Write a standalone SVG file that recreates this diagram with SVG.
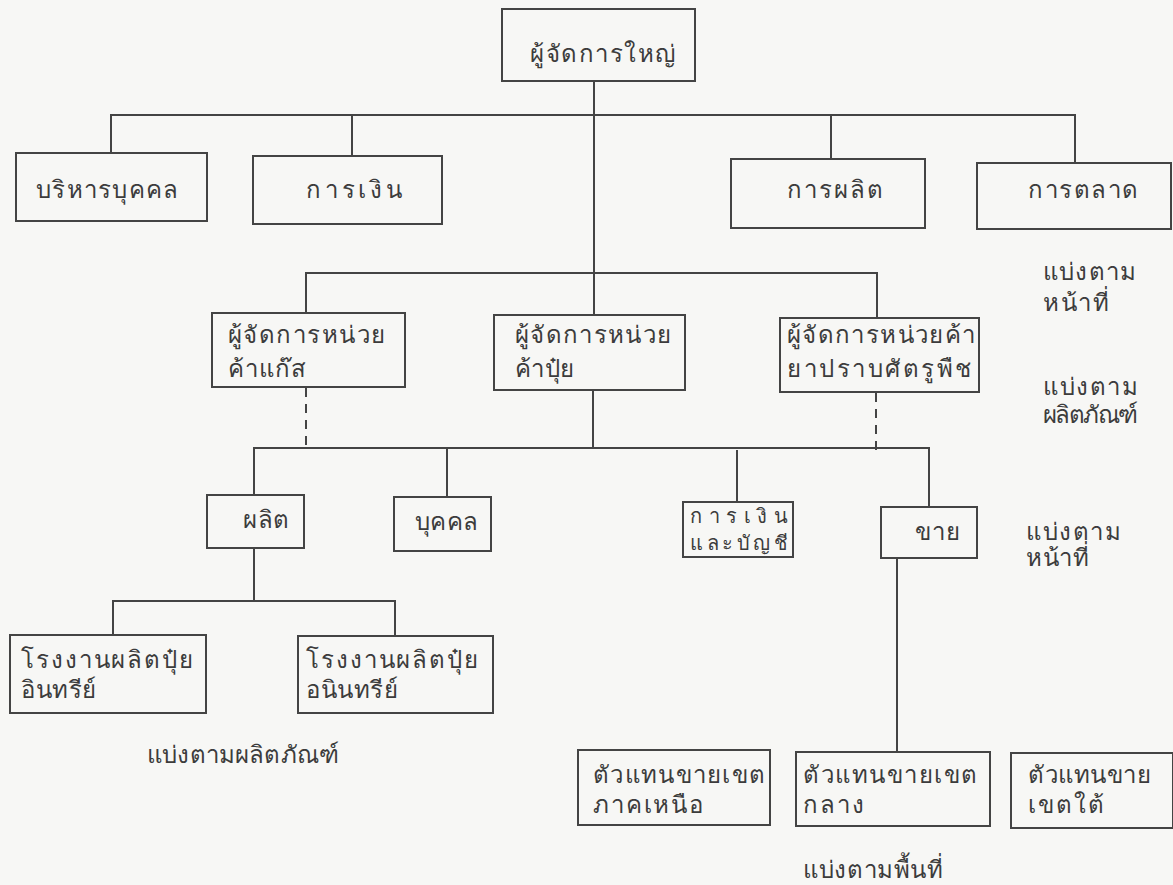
<svg xmlns="http://www.w3.org/2000/svg" width="1173" height="885" viewBox="0 0 1173 885">
<style>
.box{fill:none;stroke:#444;stroke-width:2}
.ln{fill:none;stroke:#444;stroke-width:2}
.dash{fill:none;stroke:#444;stroke-width:2;stroke-dasharray:9 7}
text{font-family:"DejaVu Sans","Noto Sans",sans-serif;font-size:24px;fill:#3c3c3c}
.sm{font-size:20px}
</style>
<rect x="0" y="0" width="1173" height="885" fill="#f7f7f5"/>
<g id="connectors">
<path class="ln" d="M594,81 V315"/>
<path class="ln" d="M111,153 V115 H1075 V163"/>
<path class="ln" d="M352,115 V156"/>
<path class="ln" d="M831,116 V159"/>
<path class="ln" d="M306,313 V273 H877 V318"/>
<path class="dash" d="M306,388 V448"/>
<path class="dash" d="M876,393 V451"/>
<path class="ln" d="M593,390 V449"/>
<path class="ln" d="M254,495 V448 H929 V507"/>
<path class="ln" d="M447,449 V497"/>
<path class="ln" d="M737,450 V502"/>
<path class="ln" d="M254,548 V601"/>
<path class="ln" d="M113,635 V601 H395 V636"/>
<path class="ln" d="M897,558 V752"/>
</g>
<g id="n-top"><rect class="box" x="502" y="9" width="193" height="72"/><text x="530" y="62" textLength="145">ผู้จัดการใหญ่</text></g>
<g id="n-hr"><rect class="box" x="16" y="153" width="191" height="68"/><text x="36" y="198" textLength="142">บริหารบุคคล</text></g>
<g id="n-fin"><rect class="box" x="253" y="156" width="189" height="68"/><text x="306" y="198" textLength="96">การเงิน</text></g>
<g id="n-prod"><rect class="box" x="731" y="159" width="194" height="69"/><text x="787" y="198" textLength="96">การผลิต</text></g>
<g id="n-mkt"><rect class="box" x="977" y="163" width="194" height="66"/><text x="1028" y="198" textLength="110">การตลาด</text></g>
<g id="lbl-func1"><text x="1043" y="280" textLength="93">แบ่งตาม</text><text x="1043" y="311" textLength="66">หน้าที่</text></g>
<g id="n-gas"><rect class="box" x="212" y="313" width="193" height="74"/><text x="228" y="343" textLength="157">ผู้จัดการหน่วย</text><text x="228" y="377" textLength="78">ค้าแก๊ส</text></g>
<g id="n-fert"><rect class="box" x="494" y="315" width="191" height="75"/><text x="515" y="343" textLength="156">ผู้จัดการหน่วย</text><text x="515" y="377" textLength="59">ค้าปุ๋ย</text></g>
<g id="n-pest"><rect class="box" x="780" y="318" width="199" height="74"/><text x="787" y="343" textLength="188">ผู้จัดการหน่วยค้า</text><text x="787" y="377" textLength="184">ยาปราบศัตรูพืช</text></g>
<g id="lbl-prod1"><text x="1043" y="395" textLength="95">แบ่งตาม</text><text x="1043" y="423" textLength="95">ผลิตภัณฑ์</text></g>
<g id="n-mfg"><rect class="box" x="207" y="495" width="97" height="53"/><text x="243" y="528" textLength="46">ผลิต</text></g>
<g id="n-pers"><rect class="box" x="394" y="497" width="97" height="54"/><text x="415" y="530" textLength="63">บุคคล</text></g>
<g id="n-acc"><rect class="box" x="683" y="502" width="110" height="55"/><text class="sm" x="690" y="523" textLength="98">การเงิน</text><text class="sm" x="690" y="550" textLength="98">และบัญชี</text></g>
<g id="n-sales"><rect class="box" x="881" y="507" width="96" height="51"/><text x="915" y="540" textLength="45">ขาย</text></g>
<g id="lbl-func2"><text x="1026" y="540" textLength="95">แบ่งตาม</text><text x="1026" y="566" textLength="63">หน้าที่</text></g>
<g id="n-org"><rect class="box" x="10" y="635" width="196" height="78"/><text x="21" y="668" textLength="172">โรงงานผลิตปุ๋ย</text><text x="21" y="698" textLength="75">อินทรีย์</text></g>
<g id="n-inorg"><rect class="box" x="298" y="636" width="195" height="77"/><text x="306" y="668" textLength="172">โรงงานผลิตปุ๋ย</text><text x="306" y="698" textLength="92">อนินทรีย์</text></g>
<g id="lbl-prod2"><text x="147" y="763" textLength="192">แบ่งตามผลิตภัณฑ์</text></g>
<g id="n-north"><rect class="box" x="578" y="750" width="192" height="75"/><text x="593" y="783" textLength="172">ตัวแทนขายเขต</text><text x="593" y="813" textLength="110">ภาคเหนือ</text></g>
<g id="n-central"><rect class="box" x="796" y="752" width="194" height="74"/><text x="803" y="783" textLength="174">ตัวแทนขายเขต</text><text x="803" y="813" textLength="61">กลาง</text></g>
<g id="n-south"><rect class="box" x="1011" y="753" width="162" height="75"/><text x="1028" y="783" textLength="123">ตัวแทนขาย</text><text x="1028" y="813" textLength="76">เขตใต้</text></g>
<g id="lbl-area"><text x="803" y="878" textLength="140">แบ่งตามพื้นที่</text></g>
</svg>
